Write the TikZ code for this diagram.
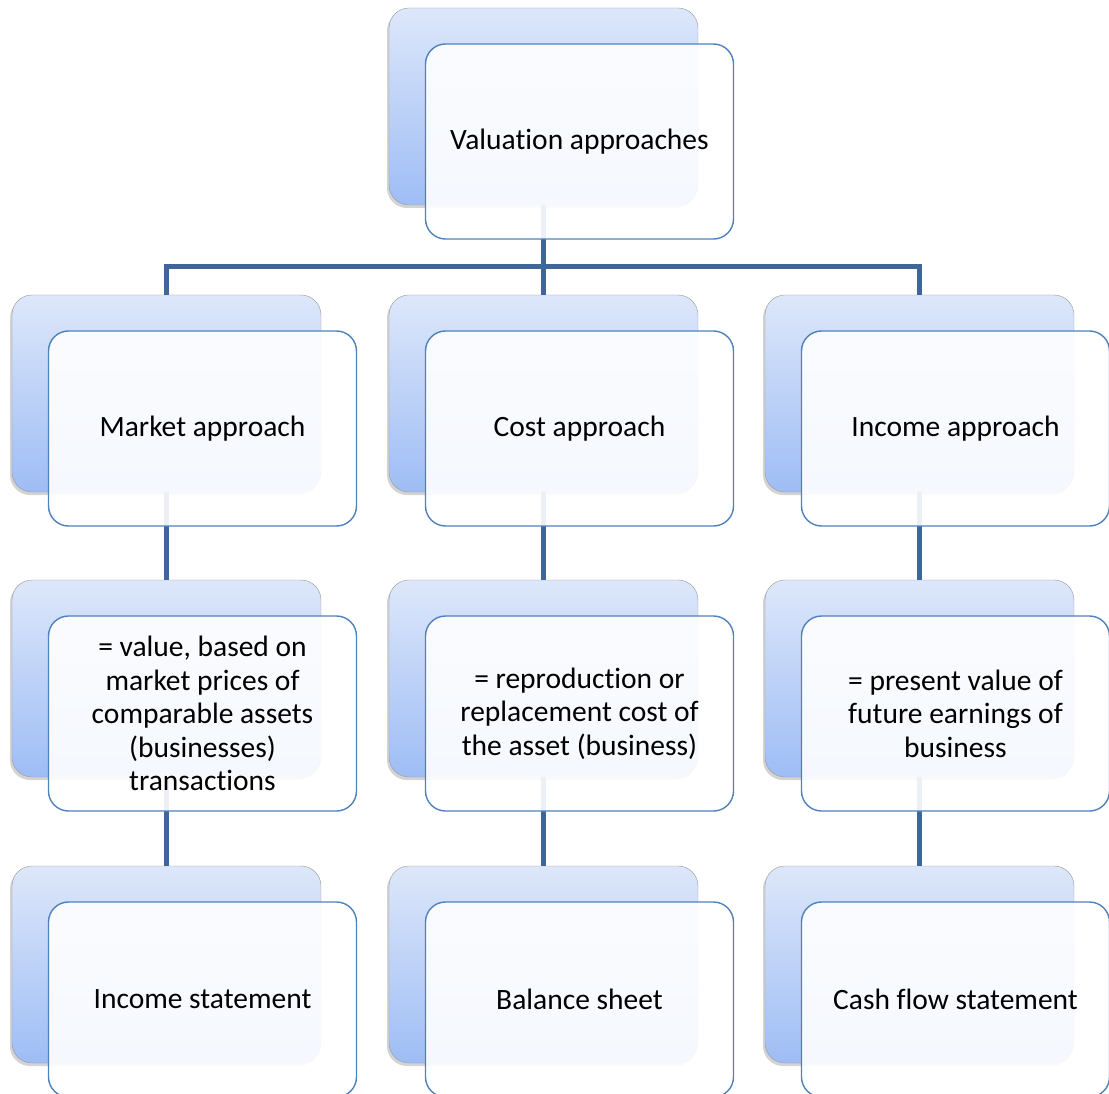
\documentclass[tikz,border=0pt]{standalone}
\usepackage{fontspec}
\setmainfont{Carlito}[Ligatures=NoCommon]
\usetikzlibrary{positioning,shadows}

\definecolor{linkblue}{RGB}{64,101,152}
\definecolor{edgeblue}{RGB}{79,129,189}
\definecolor{shadetop}{RGB}{221,231,250}
\definecolor{shadebot}{RGB}{158,189,245}

\begin{document}
\begin{tikzpicture}[x=1pt, y=-1pt,
        backbox/.style={rounded corners=20pt, draw=gray!80, thin, top color=shadetop,
          bottom color=shadebot, minimum width=309pt, minimum height=197pt, inner sep=0pt,
          drop shadow={shadow xshift=-2pt, shadow yshift=-3pt, opacity=.35}},
        frontbox/.style={rounded corners=20pt, draw=edgeblue, line width=1.4pt,
          fill=white, fill opacity=.9, text opacity=1, minimum width=308pt,
          minimum height=195pt, inner sep=0pt, align=center,
          font=\fontsize{29.5}{33.5}\selectfont},
        link/.style={draw=linkblue, line width=5pt}
      ]
      \clip (0,0) rectangle (1109,1094);

      % back layer
      \node [backbox] (valb) at (543.5,106.5) {};
      \node [backbox] (mktb) at (166.5,393.5) {};
      \node [backbox] (cstb) at (543.5,393.5) {};
      \node [backbox] (incb) at (919.5,393.5) {};
      \node [backbox] (mkdb) at (166.5,678.5) {};
      \node [backbox] (csdb) at (543.5,678.5) {};
      \node [backbox] (indb) at (919.5,678.5) {};
      \node [backbox] (mksb) at (166.5,964.5) {};
      \node [backbox] (cssb) at (543.5,964.5) {};
      \node [backbox] (inssb) at (919.5,964.5) {};

      % connectors
      \coordinate (bus) at (543.5,267);
      \path [link] (valb.south) -- (bus);
      \path [link] (bus) -| (mktb.north);
      \path [link] (bus) -| (incb.north);
      \path [link] (bus) -- (cstb.north);
      \path [link] (mktb.south) -- (mkdb.north);
      \path [link] (mkdb.south) -- (mksb.north);
      \path [link] (cstb.south) -- (csdb.north);
      \path [link] (csdb.south) -- (cssb.north);
      \path [link] (incb.south) -- (indb.north);
      \path [link] (indb.south) -- (inssb.north);

      % front layer
      \node [frontbox] (valf) at ([shift={(36,35)}]valb) {Valuation approaches};
      \node [frontbox] (mktf) at ([shift={(36,35)}]mktb) {Market approach};
      \node [frontbox] (cstf) at ([shift={(36,35)}]cstb) {Cost approach};
      \node [frontbox] (incf) at ([shift={(36,35)}]incb) {Income approach};
      \node [frontbox] (mkdf) at ([shift={(36,35)}]mkdb)
        {= value, based on\\market prices of\\comparable assets\\(businesses)\\transactions};
      \node [frontbox] (csdf) at ([shift={(36,35)}]csdb)
        {= reproduction or\\replacement cost of\\the asset (business)};
      \node [frontbox] (indf) at ([shift={(36,35)}]indb)
        {= present value of\\future earnings of\\business};
      \node [frontbox] (mksf) at ([shift={(36,35)}]mksb) {Income statement};
      \node [frontbox] (cssf) at ([shift={(36,35)}]cssb) {Balance sheet};
      \node [frontbox] (inssf) at ([shift={(36,35)}]inssb) {Cash flow statement};
    \end{tikzpicture}
\end{document}
